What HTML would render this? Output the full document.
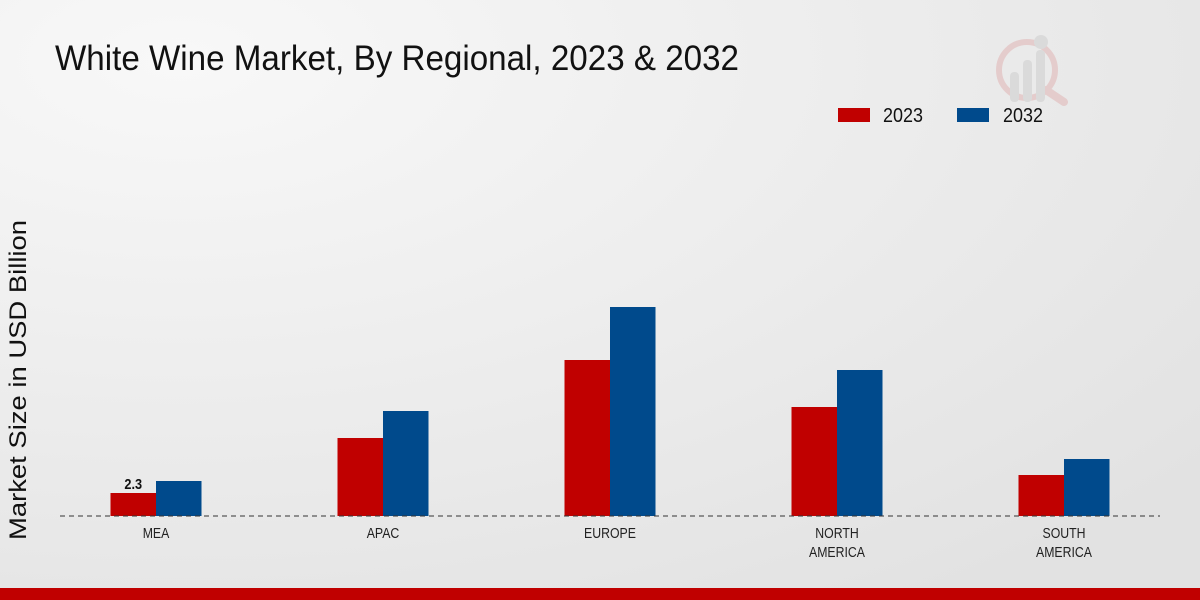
<!DOCTYPE html>
<html><head><meta charset="utf-8"><style>
body{margin:0;width:1200px;height:600px;overflow:hidden;font-family:"Liberation Sans",sans-serif;}
svg{display:block}
</style></head><body>
<svg width="1200" height="600" id="chart">
<defs><radialGradient id="bg" cx="0.15" cy="0.1" r="1.1"><stop offset="0" stop-color="#f8f8f8"/><stop offset="1" stop-color="#e2e2e2"/></radialGradient></defs>
<rect width="1200" height="600" fill="url(#bg)"/>
<text x="55" y="70" font-size="35" fill="#111" textLength="684" lengthAdjust="spacingAndGlyphs">White Wine Market, By Regional, 2023 &amp; 2032</text>
<g opacity="0.5">
<circle cx="1027" cy="70" r="28" fill="none" stroke="#e0b0b0" stroke-width="6"/>
<line x1="1046" y1="90" x2="1064" y2="102" stroke="#e0b0b0" stroke-width="8" stroke-linecap="round"/>
<rect x="1010" y="72" width="9" height="30" rx="4" fill="#ccc"/><rect x="1023" y="60" width="9" height="42" rx="4" fill="#ccc"/><rect x="1036" y="50" width="9" height="52" rx="4" fill="#ccc"/>
<circle cx="1041" cy="42" r="7" fill="#ccc"/>
</g>
<g>
<rect x="838" y="108" width="32" height="14" fill="#c00000"/>
<text x="883" y="122" font-size="20" fill="#111" textLength="40" lengthAdjust="spacingAndGlyphs">2023</text>
<rect x="957" y="108" width="32" height="14" fill="#004a8c"/>
<text x="1003" y="122" font-size="20" fill="#111" textLength="40" lengthAdjust="spacingAndGlyphs">2032</text>
</g>
<text transform="translate(26,380) rotate(-90)" text-anchor="middle" font-size="24" fill="#111" textLength="320" lengthAdjust="spacingAndGlyphs">Market Size in USD Billion</text>
<g id="bars"></g>
<line x1="60" y1="516" x2="1160" y2="516" stroke="#333" stroke-dasharray="5,4"/>
<g id="labels"></g>
<rect x="0" y="588" width="1200" height="12" fill="#c00000"/>
</svg>
<script>
const categories=[["MEA"],["APAC"],["EUROPE"],["NORTH","AMERICA"],["SOUTH","AMERICA"]];
const values2023=[2.3,7.8,15.6,10.9,4.1];
const values2032=[3.5,10.5,20.9,14.6,5.7];
const ns="http://www.w3.org/2000/svg";
const base=516, pxPerUnit=10, x0=156, step=227, bw=45.5;
const y=v=>base-v*pxPerUnit;
const xc=i=>x0+i*step;
const bars=document.getElementById('bars'), labels=document.getElementById('labels');
function mk(t,a){const e=document.createElementNS(ns,t);for(const k in a)e.setAttribute(k,a[k]);return e;}
categories.forEach((c,i)=>{
  const r=mk('rect',{x:xc(i)-bw,y:y(values2023[i]),width:bw,height:base-y(values2023[i]),fill:'#c00000'});
  
  
  bars.appendChild(r);
  const b=mk('rect',{x:xc(i),y:y(values2032[i]),width:bw,height:base-y(values2032[i]),fill:'#004a8c'});
  
  
  bars.appendChild(b);
  c.forEach((line,j)=>{
    const t=mk('text',{transform:'translate('+xc(i)+','+(538+j*19)+') scale(0.82,1)','text-anchor':'middle','font-size':'15',fill:'#222'});
    t.textContent=line;
    
    
    labels.appendChild(t);
  });
});
const vl=mk('text',{transform:'translate('+(xc(0)-bw/2)+','+(y(values2023[0])-4)+') scale(0.85,1)','text-anchor':'middle','font-size':'15','font-weight':'bold',fill:'#111'});
vl.textContent=values2023[0];


labels.appendChild(vl);
</script>
</body></html>
